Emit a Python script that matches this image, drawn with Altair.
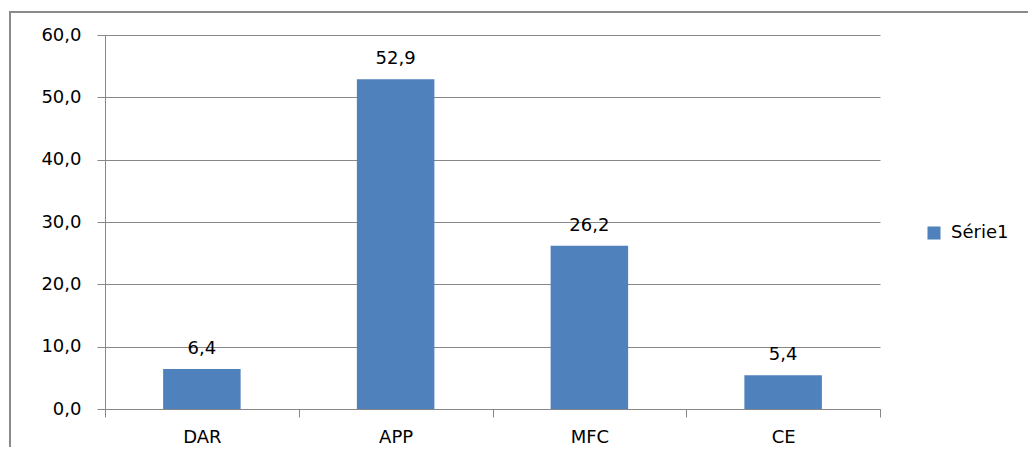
import altair as alt
import pandas as pd

categories = ["DAR", "APP", "MFC", "CE"]
values = [6.4, 52.9, 26.2, 5.4]
series = ["Série1"] * 4
y_ticks = [0, 10, 20, 30, 40, 50, 60]

df = pd.DataFrame({"cat": categories, "val": values, "serie": series})

FONT = "DejaVu Sans"
FS = 18
GRID = "#878787"

base = alt.Chart(df)

x_enc = alt.X("cat:N", sort=categories, title=None,
              scale=alt.Scale(paddingInner=0, paddingOuter=0),
              axis=alt.Axis(tickBand="extent", labelAngle=0, tickSize=8,
                            tickColor=GRID, domainColor=GRID, labelPadding=11,
                            labelFont=FONT, labelFontSize=FS, labelColor="#000000",
                            grid=False))
y_enc = alt.Y("val:Q", title=None,
              scale=alt.Scale(domain=[0, 60], nice=False),
              axis=alt.Axis(values=y_ticks, tickSize=8, tickColor=GRID,
                            domainColor=GRID, gridColor=GRID, grid=True,
                            labelPadding=16, labelFont=FONT, labelFontSize=FS,
                            labelColor="#000000",
                            labelExpr="replace(format(datum.value, '.1f'), '.', ',')"))

bars = base.mark_bar(width=alt.RelativeBandSize(0.4)).encode(
    x=x_enc,
    y=y_enc,
    color=alt.Color("serie:N", title=None,
                    scale=alt.Scale(range=["#4F81BD"]),
                    legend=alt.Legend(orient="none", legendX=820, legendY=189,
                                      symbolType="square", symbolSize=170,
                                      symbolStrokeWidth=0,
                                      labelFont=FONT, labelFontSize=FS,
                                      labelColor="#000000", labelOffset=8)),
)

labels = base.mark_text(baseline="bottom", dy=-11, font=FONT, fontSize=FS,
                        color="#000000").encode(
    x=alt.X("cat:N", sort=categories),
    y="val:Q",
    text=alt.Text("lbl:N"),
).transform_calculate(lbl="replace(format(datum.val, '.1f'), '.', ',')")

frame = alt.Chart(alt.Data(values=[{}])).mark_rect(
    filled=False, stroke="#8a8a8a", strokeWidth=2).encode(
    x=alt.value(-95), y=alt.value(-23), x2=alt.value(1100), y2=alt.value(600))

chart = alt.layer(frame, bars, labels).properties(
    width=775, height=374,
    autosize=alt.AutoSizeParams(type="none"),
    padding={"left": 97, "top": 27, "right": 148, "bottom": 38},
).configure_view(stroke=None)

chart.save("out.html", embed_options={"renderer": "svg", "actions": False})
